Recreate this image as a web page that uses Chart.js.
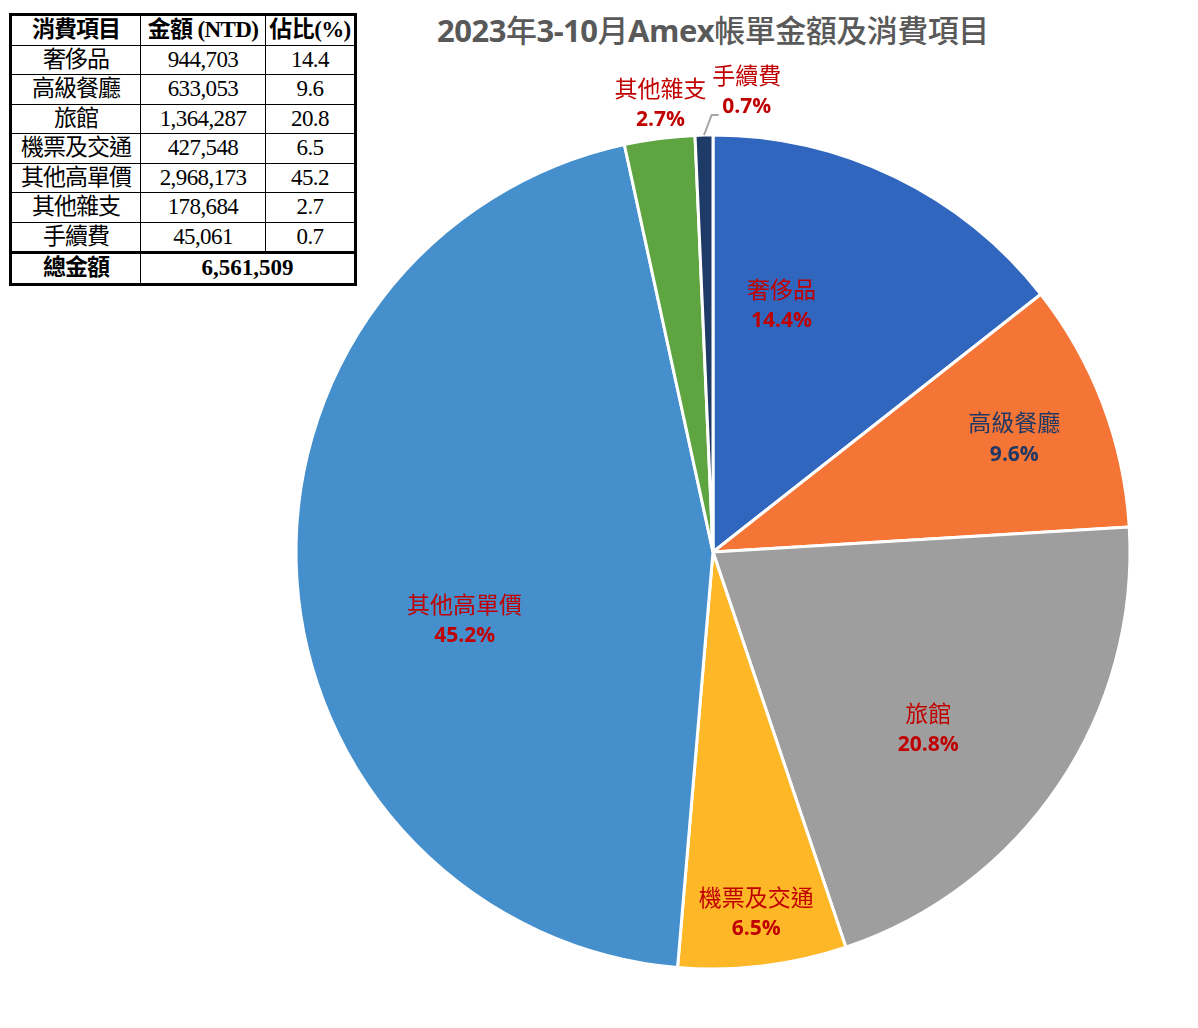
<!DOCTYPE html>
<html>
<head>
<meta charset="utf-8">
<script src="https://cdn.jsdelivr.net/npm/chart.js@4.4.0/dist/chart.umd.min.js"></script>
<style>
  body { margin: 0; background: #fff; width: 1198px; height: 1028px; overflow: hidden; position: relative; }
  #chart { position: absolute; left: 0; top: 0; }
  #title {
    position: absolute; left: 437px; top: 6px; width: 560px;
    font-family: "Open Sans", "Noto Sans CJK TC", sans-serif; font-size: 31px; color: #595959;
    white-space: nowrap; letter-spacing: -0.5px;
  }
  #title .lat { font-weight: 700; }
  #title .cjk { font-family: "Noto Sans CJK TC", sans-serif; font-weight: 500; }
  table {
    position: absolute; left: 9px; top: 13px; border-collapse: collapse;
    border: 3px solid #000; font-family: "Liberation Serif", "Noto Sans CJK TC", serif;
    font-size: 23px; color: #000; background: #fff;
  }
  td, th { border: 1.5px solid #000; padding: 0; height: 28.5px; text-align: center; line-height: 28px; white-space: nowrap; }
  th { font-weight: 700; letter-spacing: -1px; }
  tr.total td { border-top: 3px solid #000; font-weight: 700; }
  td.c1, th.c1 { width: 128px; letter-spacing: -1px; }
  td.c2, th.c2 { width: 124px; letter-spacing: -0.6px; }
  td.c3, th.c3 { width: 88px; letter-spacing: -0.6px; }
</style>
</head>
<body>
<div id="title"><span class="lat">2023</span><span class="cjk">年</span><span class="lat">3-10</span><span class="cjk">月</span><span class="lat">Amex</span><span class="cjk">帳單金額及消費項目</span></div>
<table id="tbl"></table>
<canvas id="chart" width="1198" height="1028"></canvas>
<script>
// data
const categories = ['奢侈品', '高級餐廳', '旅館', '機票及交通', '其他高單價', '其他雜支', '手續費'];
const amounts = [944703, 633053, 1364287, 427548, 2968173, 178684, 45061];
const tableHeaders = ['消費項目', '金額 (NTD)', '佔比(%)'];
const totalLabel = '總金額';

const colors = ['#3066BE', '#F47535', '#9E9E9E', '#FDB727', '#4590CC', '#5EA441', '#1E3A66'];
const labelColors = ['#C00000', '#1F3864', '#C00000', '#C00000', '#C00000', '#C00000', '#C00000'];
// [radius fraction, angle shift in degrees] for each label
const labelPlace = [[0.617, -10.5], [0.773, 0], [0.667, 5.3], [0.87, 0], [0.617, -11.4], [1.084, 0.7], [1.111, 5.4]];

const total = amounts.reduce((a, b) => a + b, 0);
const pct = amounts.map(v => (v / total * 100).toFixed(1));
const fmt = n => n.toLocaleString('en-US');

// table
const tbl = document.getElementById('tbl');
let html = '<tr>' + tableHeaders.map((h, i) => `<th class="c${i + 1}">${h}</th>`).join('') + '</tr>';
categories.forEach((c, i) => {
  html += `<tr><td class="c1">${c}</td><td class="c2">${fmt(amounts[i])}</td><td class="c3">${pct[i]}</td></tr>`;
});
html += `<tr class="total"><td class="c1">${totalLabel}</td><td colspan="2">${fmt(total)}</td></tr>`;
tbl.innerHTML = html;

const pieLabels = {
  id: 'pieLabels',
  afterDatasetsDraw(chart) {
    const ctx = chart.ctx;
    const arcs = chart.getDatasetMeta(0).data;
    ctx.save();
    ctx.textAlign = 'center';
    ctx.textBaseline = 'middle';
    arcs.forEach((arc, i) => {
      const { x, y, startAngle, endAngle, outerRadius } = arc.getProps(['x', 'y', 'startAngle', 'endAngle', 'outerRadius'], true);
      const [f, shift] = labelPlace[i];
      const a = (startAngle + endAngle) / 2 + shift * Math.PI / 180;
      const lx = x + Math.cos(a) * outerRadius * f;
      const ly = y + Math.sin(a) * outerRadius * f;
      if (i === arcs.length - 1) {
        // leader line for the tiny slice
        const m = (startAngle + endAngle) / 2;
        ctx.strokeStyle = '#A6A6A6';
        ctx.lineWidth = 2;
        ctx.beginPath();
        ctx.moveTo(x + Math.cos(m) * outerRadius, y + Math.sin(m) * outerRadius);
        ctx.lineTo(lx - 35, ly + 25);
        ctx.lineTo(lx - 28, ly + 25);
        ctx.stroke();
      }
      ctx.fillStyle = labelColors[i];
      ctx.font = '400 23px "Noto Sans CJK TC", sans-serif';
      ctx.fillText(categories[i], lx, ly - 15);
      ctx.font = '700 21px "Open Sans", "Noto Sans", sans-serif';
      ctx.fillText(pct[i] + '%', lx, ly + 17);
    });
    ctx.restore();
  }
};

new Chart(document.getElementById('chart'), {
  type: 'pie',
  data: {
    labels: categories,
    datasets: [{
      data: amounts,
      backgroundColor: colors,
      borderColor: '#ffffff',
      borderWidth: 3,
      hoverOffset: 0
    }]
  },
  options: {
    responsive: false,
    animation: false,
    radius: 417,
    layout: { padding: { left: 228, right: 0, top: 76, bottom: 0 } },
    plugins: { legend: { display: false }, tooltip: { enabled: false }, title: { display: false } }
  },
  plugins: [pieLabels]
});
</script>
</body>
</html>
